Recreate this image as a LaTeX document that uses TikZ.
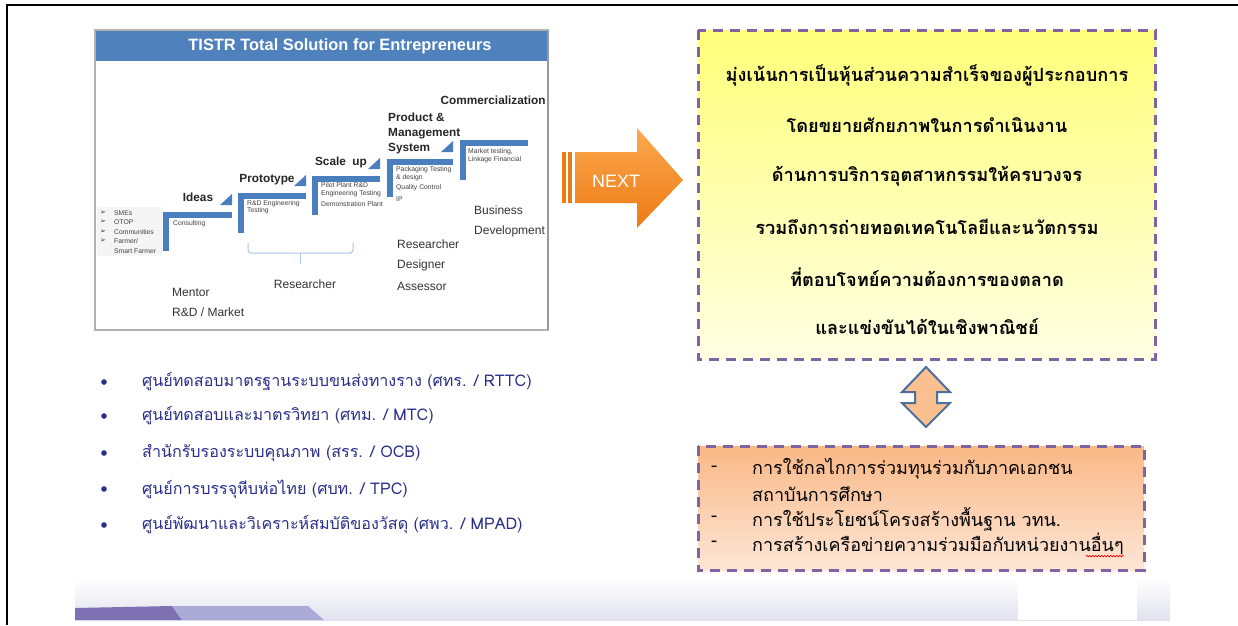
\documentclass[tikz,border=0pt]{standalone}
\usepackage{fontspec}
\setmainfont{Liberation Sans}
\newfontfamily\thai[Script=Thai]{Loma}
\newfontfamily\dejavu{DejaVu Sans}
\usetikzlibrary{decorations.pathmorphing}
\definecolor{stepblue}{HTML}{4A7EBF}
\definecolor{titleblue}{HTML}{4F81BD}
\definecolor{dashpurple}{HTML}{8064A2}
\definecolor{navy}{HTML}{2A2E8A}
\definecolor{bracketblue}{HTML}{A9C6E8}
\definecolor{yellowtop}{HTML}{FFFF7A}
\definecolor{yellowbot}{HTML}{FFFFE2}
\definecolor{orangetop}{HTML}{FAB886}
\definecolor{orangebot}{HTML}{FDE6D6}
\definecolor{nextlight}{HTML}{FBA94F}
\definecolor{nextdark}{HTML}{EE7A14}
\definecolor{arrowfill}{HTML}{FAC090}
\definecolor{arrowline}{HTML}{4F6F9F}
\definecolor{lav}{HTML}{E2E2EF}
\definecolor{purpdark}{HTML}{7F70B3}
\definecolor{purplight}{HTML}{AAAAD6}
\definecolor{smallgray}{HTML}{404040}
\tikzset{
  stepbar/.style={fill=stepblue},
  stagelabel/.style={font=\bfseries\fontsize{11.8}{13}\selectfont, text=black!85, inner sep=0pt},
  tiny/.style={font=\fontsize{6.8}{7.5}\selectfont, text=smallgray, anchor=west, inner sep=0pt, align=left},
  role/.style={font=\fontsize{12}{13}\selectfont, text=black!80, anchor=west, inner sep=0pt},
  bullettext/.style={font=\thai\fontsize{16.1}{18}\selectfont, text=navy, anchor=west, inner sep=0pt},
  yellowtext/.style={font=\thai\bfseries\fontsize{18.2}{20}\selectfont, inner sep=0pt},
  orangetext/.style={font=\thai\fontsize{18}{20}\selectfont, anchor=west, inner sep=0pt},
  dashbox/.style={draw=dashpurple, line width=3pt, dash pattern=on 10pt off 7pt},
}
\begin{document}
\begin{tikzpicture}[x=1pt,y=-1pt]
\useasboundingbox (0,0) rectangle (1238,625);
\fill[white] (0,0) rectangle (1238,625);
\draw[line width=2pt] (7,625) -- (7,5) -- (1238,5);

% ---------- left panel ----------
\draw[gray!60, line width=1.2pt] (95,30) rectangle (548,330);
\draw[gray!80, line width=1.6pt] (548,30) -- (548,330);
\fill[titleblue] (96,31) rectangle (547,61);
\node[font=\bfseries\fontsize{16.4}{18}\selectfont, text=white] (title) at (340,46) {TISTR Total Solution for Entrepreneurs};

% steps
\foreach \x/\y/\xr/\yb in {163/212/232/251, 238/193/306/233, 312/176/380/215, 387/159/453/197, 460/140/528/180}{
  \fill[stepbar] (\x,\y) rectangle (\xr,\y+5.5);
  \fill[stepbar] (\x,\y) rectangle (\x+6,\yb);
}
\foreach \xr/\y in {232/212, 306/193, 380/176, 453/159}{
  \fill[stepbar] (\xr-12,\y-7) -- (\xr,\y-7) -- (\xr,\y-18) -- cycle;
}

\node[stagelabel] (ideas) at (198,197) {Ideas};
\node[stagelabel] (proto) at (267,180) {Prototype};
\node[stagelabel] (scale) at (341,162) {Scale\ \ up};
\node[stagelabel, anchor=west, align=left, font=\bfseries\fontsize{11.8}{15}\selectfont] (prod) at (388,133) {Product \&\\Management\\System};
\node[stagelabel] (comm) at (493,100) {Commercialization};

\node[tiny] (t1) at (173,224) {Consulting};
\node[tiny] (t2) at (247,207) {R\&D Engineering\\Testing};
\node[tiny] (t3) at (321,189.5) {Pilot Plant R\&D\\Engineering Testing};
\node[tiny] (t4) at (321,204) {Demonstration Plant};
\node[tiny] (t5) at (396,173.5) {Packaging Testing\\\& design};
\node[tiny] (t6) at (396,188) {Quality Control};
\node[tiny] (t7) at (396,199) {IP};
\node[tiny, font=\fontsize{6.8}{8}\selectfont] (t8) at (468,156) {Market testing,\\Linkage Financial};

% list box
\fill[gray!8] (97,207) rectangle (162,256);
\foreach \t/\y in {{SMEs}/213, {OTOP}/222, {Communities}/232, {Farmer/}/241}{
  \node[font=\dejavu\fontsize{7}{7}\selectfont, inner sep=0pt, text=black!80] at (103,\y) {➢};
  \node[tiny] at (114,\y) {\t};
}
\node[tiny] (sf) at (114,251) {Smart Farmer};

\node[role] (bus) at (474,210) {Business};
\node[role] (dev) at (474,231) {Development};
\node[role] (r1) at (397,244) {Researcher};
\node[role] (r2) at (397,265) {Designer};
\node[role] (r3) at (397,286) {Assessor};
\node[role, anchor=center] (r4) at (305,284) {Researcher};
\node[role] (m1) at (172,292) {Mentor};
\node[role] (m2) at (172,312) {R\&D / Market};

\draw[bracketblue, line width=1pt, rounded corners=3pt] (248,243) -- (248,253) -- (353,253) -- (353,243);
\coordinate (bk) at (300,253);
\coordinate (bkend) at (300,264);
\draw[bracketblue, line width=1pt] (bk) -- (bkend);

% ---------- bullets ----------
\foreach \t/\y in {
  {ศูนย์ทดสอบมาตรฐานระบบขนส่งทางราง (ศทร. / RTTC)}/382,
  {ศูนย์ทดสอบและมาตรวิทยา (ศทม. / MTC)}/416,
  {สำนักรับรองระบบคุณภาพ (สรร. / OCB)}/453,
  {ศูนย์การบรรจุหีบห่อไทย (ศบท. / TPC)}/489,
  {ศูนย์พัฒนาและวิเคราะห์สมบัติของวัสดุ (ศพว. / MPAD)}/525}{
  \fill[navy] (104,\y) circle (2.8);
  \node[bullettext] at (142,\y) {\t};
}

% ---------- NEXT arrow ----------
\fill[nextdark] (562,152) rectangle (566,203);
\fill[nextdark] (568,152) rectangle (572,203);
\shade[top color=nextlight, bottom color=nextdark] (575,152) -- (637,152) -- (637,128) -- (683,180) -- (637,228) -- (637,203) -- (575,203) -- cycle;
\node[font=\fontsize{18}{20}\selectfont, text=white] (next) at (616,181) {NEXT};

% ---------- yellow box ----------
\shade[top color=yellowtop, bottom color=yellowbot] (698,30) rectangle (1155,359);
\draw[dashbox] (698,30) rectangle (1155,359);
\node[yellowtext] (y1) at (927,75) {มุ่งเน้นการเป็นหุ้นส่วนความสำเร็จของผู้ประกอบการ};
\node[yellowtext] (y2) at (927,125) {โดยขยายศักยภาพในการดำเนินงาน};
\node[yellowtext] (y3) at (927,176) {ด้านการบริการอุตสาหกรรมให้ครบวงจร};
\node[yellowtext] (y4) at (927,227) {รวมถึงการถ่ายทอดเทคโนโลยีและนวัตกรรม};
\node[yellowtext] (y5) at (927,277) {ที่ตอบโจทย์ความต้องการของตลาด};
\node[yellowtext] (y6) at (927,327) {และแข่งขันได้ในเชิงพาณิชย์};

% ---------- double arrow ----------
\filldraw[fill=arrowfill, draw=arrowline, line width=2pt, line join=miter]
  (926,367) -- (950,392) -- (937,392) -- (937,403) -- (950,403) -- (926,427) -- (902,403) -- (915,403) -- (915,392) -- (902,392) -- cycle;

% ---------- orange box ----------
\shade[top color=orangetop, bottom color=orangebot] (698,446) rectangle (1144,570);
\draw[dashbox] (698,446) rectangle (1144,570);
\foreach \y in {469,519,544}{\node[orangetext] at (711,\y) {-};}
\node[orangetext] (o1) at (752,469) {การใช้กลไกการร่วมทุนร่วมกับภาคเอกชน};
\node[orangetext] (o2) at (752,494) {สถาบันการศึกษา};
\node[orangetext] (o3) at (752,519) {การใช้ประโยชน์โครงสร้างพื้นฐาน วทน.};
\node[orangetext] (o4) at (752,544) {การสร้างเครือข่ายความร่วมมือกับหน่วยงานอื่นๆ};
\draw[red, line width=0.6pt, decorate, decoration={snake, amplitude=0.8pt, segment length=3pt}] (o4.south east) ++(-38,1) -- ++(38,0);

% ---------- bottom strip ----------
\shade[top color=white, bottom color=lav] (75,578) rectangle (1170,620);
\fill[white] (1018,578) rectangle (1137,620);
\fill[purpdark] (75,608) -- (172,606) -- (182,620) -- (75,620) -- cycle;
\fill[purplight] (172,606) -- (308,606) -- (324,620) -- (182,620) -- cycle;
\end{tikzpicture}
\end{document}
